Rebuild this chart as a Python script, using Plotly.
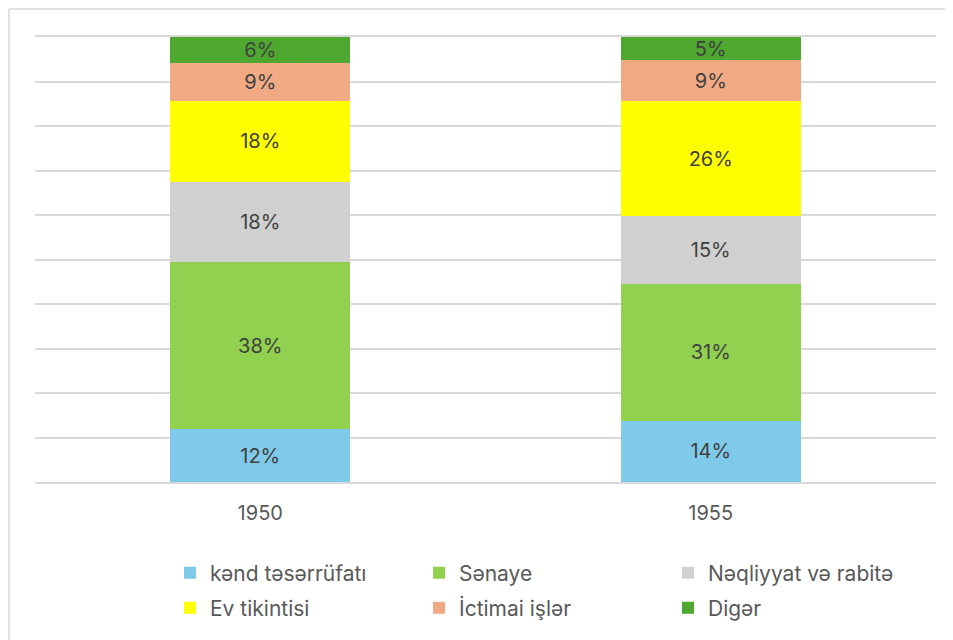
import plotly.graph_objects as go

years = ["1950", "1955"]
series_names = ["kənd təsərrüfatı", "Sənaye", "Nəqliyyat və rabitə", "Ev tikintisi", "İctimai işlər", "Digər"]
kend = [11.9, 13.7]
senaye = [37.8, 30.6]
neqliyyat = [18.0, 15.3]
ev = [18.4, 25.6]
ictimai = [8.6, 9.2]
diger = [5.8, 5.2]
colors = ["#7FCAEA", "#92D050", "#D0D0D0", "#FFFF00", "#F2AA84", "#4EA72E"]
legend_rows = ["legend", "legend", "legend", "legend2", "legend2", "legend2"]

series = [kend, senaye, neqliyyat, ev, ictimai, diger]
totals = [sum(s[i] for s in series) for i in range(len(years))]

FONT = "Inter"

fig = go.Figure()
for name, vals, col, lg in zip(series_names, series, colors, legend_rows):
    labels = [f"{round(v / t * 100):.0f}%" for v, t in zip(vals, totals)]
    fig.add_trace(go.Bar(
        x=years, y=vals, name=name, marker=dict(color=col, line=dict(width=0)),
        text=labels, textposition="inside", insidetextanchor="middle",
        texttemplate="%{text}", textangle=0, constraintext="none",
        textfont=dict(color="#404040", size=20, family=FONT),
        legend=lg,
    ))

PLOT_W, PLOT_H = 901, 445
leg_common = dict(
    orientation="h", xanchor="left", yanchor="middle",
    entrywidth=204, entrywidthmode="pixels", traceorder="normal",
    font=dict(size=21, color="#595959", family=FONT),
    bgcolor="rgba(0,0,0,0)",
)

bx = (9 - 35) / PLOT_W
by = 1 + (37 - 9) / PLOT_H
border = dict(color="#D9D9D9", width=1.5)

fig.update_layout(
    barmode="stack", barnorm="percent", bargap=0.6,
    width=945, height=632,
    margin=dict(l=27, r=17, t=29, b=158, autoexpand=False),
    paper_bgcolor="white", plot_bgcolor="white",
    font=dict(family=FONT, color="#595959", size=16),
    showlegend=True,
    legend=dict(leg_common, x=(170 - 35) / PLOT_W, y=-(573 - 482) / PLOT_H),
    legend2=dict(leg_common, x=(170 - 35) / PLOT_W, y=-(608 - 482) / PLOT_H),
    xaxis=dict(showline=True, mirror=True, linecolor="#D9D9D9", linewidth=1.5,
               ticks="", tickfont=dict(size=20, color="#595959", family=FONT),
               showgrid=False, ticklabelstandoff=12),
    yaxis=dict(range=[0, 100], dtick=10, showticklabels=False, showgrid=True,
               gridcolor="#D9D9D9", gridwidth=1.5, zeroline=False, fixedrange=True),
    shapes=[
        dict(type="line", xref="paper", yref="paper", x0=bx, x1=1 + 40 / PLOT_W, y0=by, y1=by,
             line=border, layer="below"),
        dict(type="line", xref="paper", yref="paper", x0=bx, x1=bx, y0=by, y1=-200 / PLOT_H,
             line=border, layer="below"),
    ],
)

fig.write_html("out.html")
